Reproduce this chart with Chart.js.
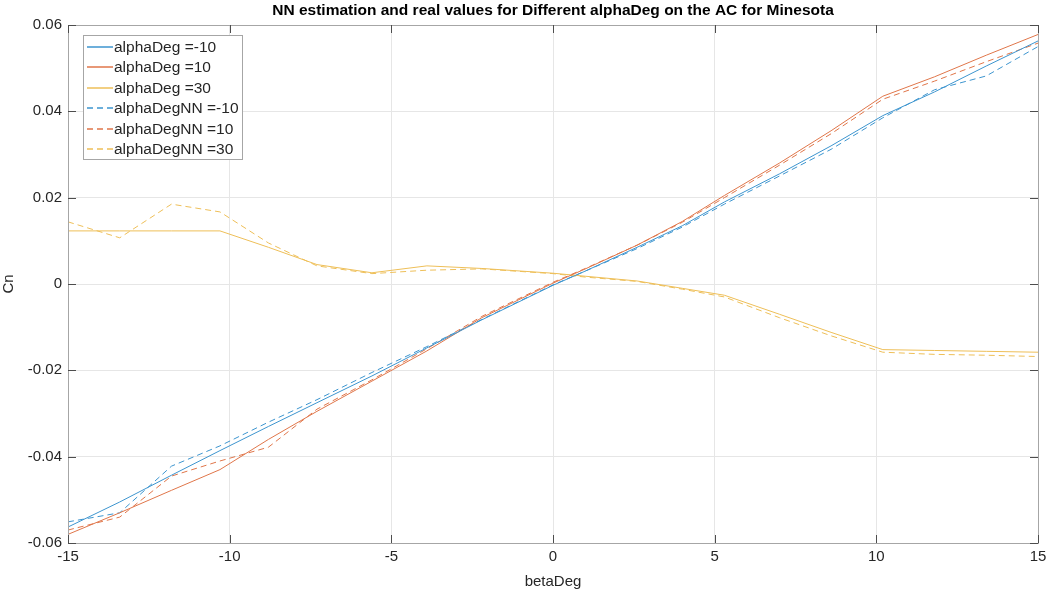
<!DOCTYPE html>
<html>
<head>
<meta charset="utf-8">
<script src="https://cdn.jsdelivr.net/npm/chart.js@4/dist/chart.umd.min.js"></script>
<style>
  html, body { margin: 0; padding: 0; background: #fff; }
  #wrap { width: 1052px; height: 594px; position: relative; }
</style>
</head>
<body>
<div id="wrap"><canvas id="chart"></canvas></div>
<script>
'use strict';

// betaDeg sample points (x axis)
const betaDeg = [-15, -13.4, -11.8, -10.3, -8.8, -7.3, -5.6, -3.9, -2.2, 0, 1, 2.6, 4, 5.3, 7, 8.6, 10.2, 11.8, 13.4, 15];

// real Cn values
const cnAlphaM10 = [-0.0563, -0.0505, -0.0443, -0.0386, -0.0330, -0.0275, -0.0213, -0.0148, -0.0083, -0.0003, 0.0030, 0.0085, 0.0135, 0.0190, 0.0255, 0.0320, 0.0390, 0.0445, 0.0505, 0.0563];
const cnAlpha10 = [-0.0580, -0.0530, -0.0478, -0.0430, -0.0360, -0.0295, -0.0225, -0.0155, -0.0078, 0.0002, 0.0035, 0.0090, 0.0145, 0.0205, 0.0280, 0.0355, 0.0435, 0.0480, 0.0530, 0.0578];
const cnAlpha30 = [0.0123, 0.0123, 0.0123, 0.0123, 0.0085, 0.0045, 0.0026, 0.0042, 0.0036, 0.0025, 0.0018, 0.0007, -0.0010, -0.0026, -0.0070, -0.0112, -0.0152, -0.0154, -0.0156, -0.0158];

// NN estimated Cn values
const nnAlphaM10 = [-0.0551, -0.0530, -0.0422, -0.0375, -0.0320, -0.0268, -0.0205, -0.0145, -0.0082, -0.0002, 0.0030, 0.0082, 0.0132, 0.0185, 0.0250, 0.0312, 0.0385, 0.0450, 0.0482, 0.0550];
const nnAlpha10 = [-0.0570, -0.0540, -0.0445, -0.0410, -0.0378, -0.0290, -0.0222, -0.0150, -0.0075, 0.0004, 0.0036, 0.0090, 0.0143, 0.0200, 0.0275, 0.0348, 0.0428, 0.0470, 0.0515, 0.0558];
const nnAlpha30 = [0.0144, 0.0107, 0.0185, 0.0167, 0.0095, 0.0042, 0.0024, 0.0032, 0.0035, 0.0024, 0.0016, 0.0006, -0.0012, -0.0030, -0.0078, -0.0120, -0.0158, -0.0163, -0.0165, -0.0168];

const xTicks = [-15, -10, -5, 0, 5, 10, 15];
const yTicks = [-0.06, -0.04, -0.02, 0, 0.02, 0.04, 0.06];

const seriesLabels = ['alphaDeg =-10', 'alphaDeg =10', 'alphaDeg =30', 'alphaDegNN =-10', 'alphaDegNN =10', 'alphaDegNN =30'];
const seriesValues = [cnAlphaM10, cnAlpha10, cnAlpha30, nnAlphaM10, nnAlpha10, nnAlpha30];

// matlab default colours, a bit lighter like the thin lines in the picture
const COLORS = ['#3d95cf', '#e0764a', '#eebf58'];
const FONT = '"Liberation Sans", Arial, sans-serif';
const TEXT = '#262626';

function toPoints(values) {
  return betaDeg.map((b, i) => ({ x: b, y: values[i] }));
}

const datasets = seriesValues.map((vals, i) => ({
  label: seriesLabels[i],
  data: toPoints(vals),
  borderColor: COLORS[i % 3],
  backgroundColor: COLORS[i % 3],
  borderWidth: 1,
  borderDash: i >= 3 ? [6, 4] : [],
  pointRadius: 0,
  tension: 0,
  fill: false,
}));

// title, axes box, inward ticks and the legend box, MATLAB style
const matlabDecor = {
  id: 'matlabDecor',
  afterDraw(chart) {
    const ctx = chart.ctx;
    const a = chart.chartArea;
    const xs = chart.scales.x, ys = chart.scales.y;
    ctx.save();

    // box
    ctx.strokeStyle = '#a6a6a6';
    ctx.lineWidth = 1;
    ctx.strokeRect(Math.round(a.left) + 0.5, Math.round(a.top) + 0.5, Math.round(a.right - a.left), Math.round(a.bottom - a.top));

    // inward tick marks
    ctx.strokeStyle = '#4d4d4d';
    ctx.beginPath();
    for (const t of xTicks) {
      const px = Math.round(xs.getPixelForValue(t)) + 0.5;
      ctx.moveTo(px, a.bottom); ctx.lineTo(px, a.bottom - 8);
      ctx.moveTo(px, a.top); ctx.lineTo(px, a.top + 8);
    }
    for (const t of yTicks) {
      const py = Math.round(ys.getPixelForValue(t)) + 0.5;
      ctx.moveTo(a.left, py); ctx.lineTo(a.left + 8, py);
      ctx.moveTo(a.right, py); ctx.lineTo(a.right - 8, py);
    }
    ctx.stroke();

    // title
    ctx.fillStyle = '#000';
    ctx.font = 'bold 15.5px ' + FONT;
    ctx.textAlign = 'center';
    ctx.textBaseline = 'middle';
    ctx.fillText('NN estimation and real values for Different alphaDeg on the AC for Minesota', (a.left + a.right) / 2, 11);

    // legend
    const lx = a.left + 15, ly = a.top + 10, lw = 159, lh = 124;
    ctx.fillStyle = '#fff';
    ctx.fillRect(lx, ly, lw, lh);
    ctx.strokeStyle = '#a6a6a6';
    ctx.strokeRect(lx + 0.5, ly + 0.5, lw, lh);
    ctx.font = '15.5px ' + FONT;
    ctx.textAlign = 'left';
    for (let i = 0; i < seriesLabels.length; i++) {
      const y = Math.round(ly + 12 + i * 20.4);
      ctx.beginPath();
      ctx.strokeStyle = COLORS[i % 3];
      ctx.lineWidth = 1.5;
      ctx.setLineDash(i >= 3 ? [6, 4] : []);
      ctx.moveTo(lx + 4, y);
      ctx.lineTo(lx + 30, y);
      ctx.stroke();
      ctx.setLineDash([]);
      ctx.fillStyle = TEXT;
      ctx.fillText(seriesLabels[i], lx + 31, y + 1);
    }
    ctx.restore();
  }
};

new Chart(document.getElementById('chart'), {
  type: 'line',
  data: { datasets: datasets },
  plugins: [matlabDecor],
  options: {
    responsive: true,
    maintainAspectRatio: false,
    animation: false,
    layout: {
      padding: { left: 0, top: 25, right: 14, bottom: 0 }
    },
    plugins: {
      legend: { display: false },
      tooltip: { enabled: false },
      title: { display: false },
    },
    scales: {
      x: {
        type: 'linear',
        min: -15,
        max: 15,
        afterFit: (scale) => { scale.height = 51; },
        afterBuildTicks: (scale) => { scale.ticks = xTicks.map(v => ({ value: v })); },
        ticks: {
          color: TEXT,
          font: { family: FONT, size: 15 },
          padding: 5,
          maxRotation: 0,
        },
        grid: { color: '#e6e6e6', drawTicks: false },
        border: { display: false },
        title: {
          display: true,
          text: 'betaDeg',
          color: TEXT,
          font: { family: FONT, size: 15 },
          padding: { top: 0, bottom: 3 },
        },
      },
      y: {
        type: 'linear',
        min: -0.06,
        max: 0.06,
        afterFit: (scale) => { scale.width = 68; },
        afterBuildTicks: (scale) => { scale.ticks = yTicks.map(v => ({ value: v })); },
        ticks: {
          color: TEXT,
          font: { family: FONT, size: 15 },
          padding: 6,
          callback: (v) => (Math.abs(v) < 1e-9 ? '0' : v.toFixed(2)),
        },
        grid: { color: '#e6e6e6', drawTicks: false },
        border: { display: false },
        title: {
          display: true,
          text: 'Cn',
          color: TEXT,
          font: { family: FONT, size: 15 },
          padding: { top: 0, bottom: 3 },
        },
      }
    }
  }
});
</script>
</body>
</html>
